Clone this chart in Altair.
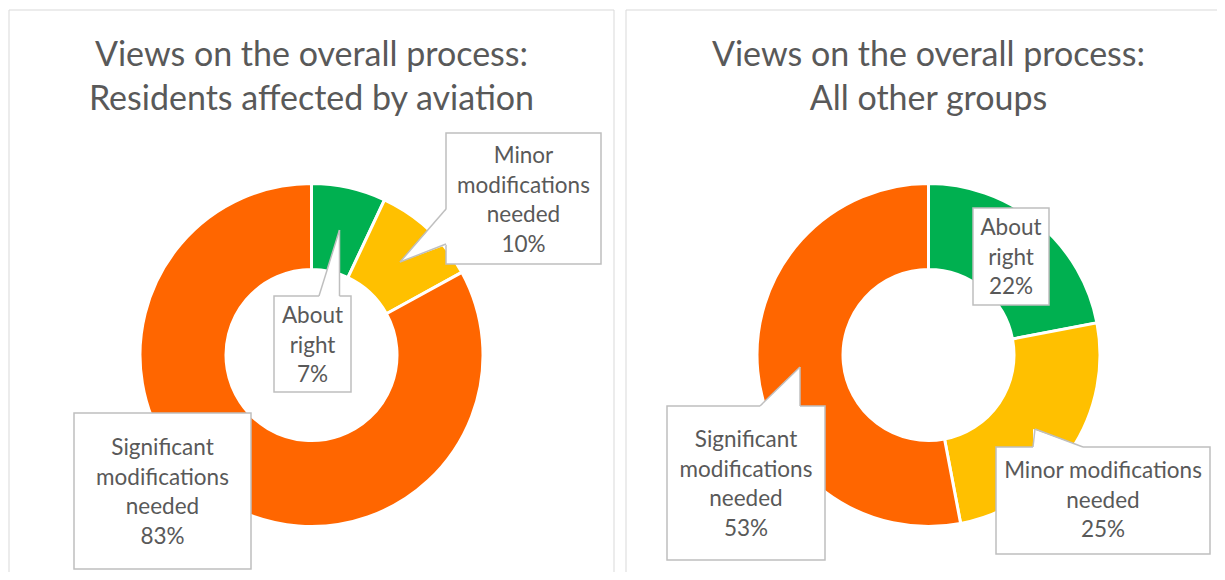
import altair as alt
import pandas as pd

# ---------------- data ----------------
categories = ["About right", "Minor modifications needed", "Significant modifications needed"]
residents_values = [7, 10, 83]
others_values = [22, 25, 53]
panel_titles = ["Views on the overall process:\nResidents affected by aviation",
                "Views on the overall process:\nAll other groups"]
colors = ["#00B050", "#FFC000", "#FF6600"]

# label wording (line breaks as in the original callouts)
residents_label_words = ["About\nright", "Minor\nmodifications\nneeded", "Significant\nmodifications\nneeded"]
others_label_words = ["About\nright", "Minor modifications\nneeded", "Significant\nmodifications\nneeded"]

# ---------------- layout (screen pixel coordinates) ----------------
W, H = 1209, 564
X0, Y0 = 8, 8
FONT = "Lato"
TXT = "#595959"
BOX = "#BFBFBF"

panels = [dict(x=9, x2=614, y=10, y2=700, cx=311.5, cy=355, tx=311.5, ty=66),
          dict(x=626, x2=1400, y=10, y2=700, cx=928.5, cy=355, tx=928.5, ty=66)]

# callout boxes per panel, in category order
boxes = [
    [dict(x=274, x2=351, y=296, y2=392, tx=312.5, ty=323),
     dict(x=446, x2=601, y=133, y2=264, tx=523.5, ty=163),
     dict(x=74, x2=251, y=413, y2=569, tx=162.5, ty=455)],
    [dict(x=973, x2=1049, y=208, y2=305, tx=1011, ty=235),
     dict(x=996, x2=1210, y=447, y2=554, tx=1103, ty=478),
     dict(x=667, x2=825, y=406, y2=560, tx=746, ty=447)],
]

# callout pointer triangles: (id, x, y, y2) fill outline and edges
tail_fill = [
    ("la", 319, 296, 297.6), ("la", 339.5, 230, 297.6),
    ("lm", 400, 262, 262), ("lm", 447.6, 208, 244.5),
    ("rm", 1033, 429, 448.6), ("rm", 1083, 447, 448.6),
    ("rs", 760, 406, 407.6), ("rs", 800, 367, 407.6),
]
tail_edges = [
    (319, 296, 339.5, 230), (339.5, 230, 339.5, 296),
    (446, 209, 400, 262), (400, 262, 446, 244),
    (1033, 447, 1035, 429), (1035, 429, 1083, 447),
    (760, 406, 800, 367), (800, 367, 800, 406),
]

# ---------------- tables ----------------
arc_rows = []
label_rows = []
box_rows = []
for p, (vals, words) in enumerate([(residents_values, residents_label_words),
                                    (others_values, others_label_words)]):
    start = 0
    for i, (c, v) in enumerate(zip(categories, vals)):
        arc_rows.append(dict(panel=p, category=c, start=start, end=start + v,
                             cx=panels[p]["cx"], cy=panels[p]["cy"]))
        start += v
        b = boxes[p][i]
        box_rows.append(dict(x=b["x"], x2=b["x2"], y=b["y"], y2=b["y2"]))
        label_rows.append(dict(x=b["tx"], y=b["ty"], text=f"{words[i]}\n{v}%"))

arcs_df = pd.DataFrame(arc_rows)
labels_df = pd.DataFrame(label_rows)
boxes_df = pd.DataFrame(box_rows)
panels_df = pd.DataFrame(panels)
titles_df = pd.DataFrame(dict(x=[p["tx"] for p in panels], y=[p["ty"] for p in panels],
                              text=panel_titles))
tail_fill_df = pd.DataFrame(tail_fill, columns=["id", "x", "y", "y2"])
tail_edge_df = pd.DataFrame(tail_edges, columns=["x", "y", "x2", "y2"])

xs = alt.Scale(domain=[X0, X0 + W], nice=False, zero=False)
ys = alt.Scale(domain=[Y0, Y0 + H], nice=False, zero=False, reverse=True)


def X(f):
    return alt.X(f, type="quantitative", scale=xs, axis=None)


def Y(f):
    return alt.Y(f, type="quantitative", scale=ys, axis=None)


panel_layer = alt.Chart(panels_df).mark_rect(
    fillOpacity=0, stroke="#D9D9D9", strokeWidth=1, clip=True
).encode(x=X("x"), x2="x2", y=Y("y"), y2="y2")

arc_layer = alt.Chart(arcs_df).mark_arc(
    innerRadius=85.5, outerRadius=171.5, stroke="white", strokeWidth=3
).encode(
    x=X("cx"), y=Y("cy"),
    theta=alt.Theta("start:Q", scale=alt.Scale(domain=[0, 100]), stack=None),
    theta2="end:Q",
    color=alt.Color("category:N", scale=alt.Scale(domain=categories, range=colors), legend=None),
)

box_layer = alt.Chart(boxes_df).mark_rect(
    fill="white", stroke=BOX, strokeWidth=1.5
).encode(x=X("x"), x2="x2", y=Y("y"), y2="y2")

tail_fill_layer = alt.Chart(tail_fill_df).mark_area(
    color="white", orient="vertical", interpolate="linear"
).encode(x=X("x"), y=Y("y"), y2="y2", detail="id:N")

tail_edge_layer = alt.Chart(tail_edge_df).mark_rule(
    color=BOX, strokeWidth=1.5
).encode(x=X("x"), y=Y("y"), x2="x2", y2="y2")

label_layer = alt.Chart(labels_df).mark_text(
    font=FONT, fontSize=22.5, color=TXT, align="center", baseline="alphabetic",
    lineBreak="\n", lineHeight=29.5
).encode(x=X("x"), y=Y("y"), text="text:N")

title_layer = alt.Chart(titles_df).mark_text(
    font=FONT, fontSize=34, color=TXT, align="center", baseline="alphabetic",
    lineBreak="\n", lineHeight=44
).encode(x=X("x"), y=Y("y"), text="text:N")

chart = alt.layer(
    panel_layer, arc_layer, box_layer, tail_fill_layer, tail_edge_layer, label_layer, title_layer
).properties(width=W, height=H, padding=0, autosize="none").configure_view(stroke=None)

chart.save("out.html", embed_options={"renderer": "svg", "actions": False})
